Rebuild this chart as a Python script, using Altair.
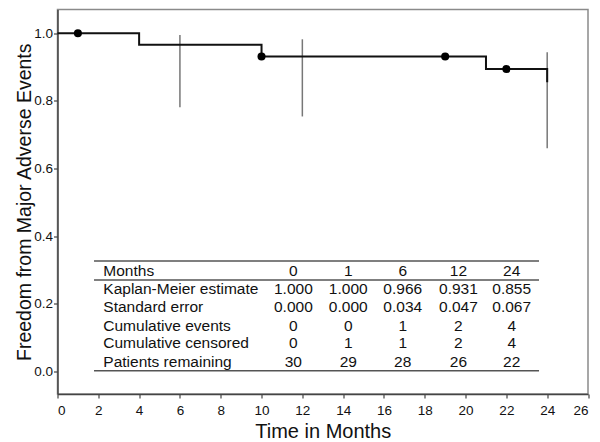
import altair as alt
import pandas as pd

# ---- Kaplan-Meier curve data ----
step_t = [0, 4, 10, 21, 24]
step_s = [1.0, 0.966, 0.931, 0.894, 0.855]
cens_t = [1, 10, 19, 22]
cens_s = [1.0, 0.931, 0.931, 0.894]
ci_t = [6, 12, 24]
ci_lo = [0.781, 0.754, 0.660]
ci_hi = [0.995, 0.982, 0.944]

# ---- Table content ----
row_labels = ["Months", "Kaplan-Meier estimate", "Standard error",
              "Cumulative events", "Cumulative censored", "Patients remaining"]
months = ["0", "1", "6", "12", "24"]
km_est = ["1.000", "1.000", "0.966", "0.931", "0.855"]
std_err = ["0.000", "0.000", "0.034", "0.047", "0.067"]
cum_events = ["0", "0", "1", "2", "4"]
cum_censored = ["0", "1", "1", "2", "4"]
remaining = ["30", "29", "28", "26", "22"]

# ---- table layout (in data units of the axes) ----
label_x = 2.245
col_x = [11.56, 14.25, 16.92, 19.65, 22.26]
row_y = [0.2985, 0.2435, 0.190, 0.136, 0.084, 0.0296]
line_y = [0.327, 0.271, 0.003]
line_x0, line_x1 = 1.79, 23.6

FONT = "Liberation Sans"
W, H = 530.5, 384.5
xs = alt.Scale(domain=[0, 26], nice=False, zero=False)
ys = alt.Scale(domain=[-0.066, 1.07], nice=False, zero=False)

step_df = pd.DataFrame({"t": step_t, "s": step_s})
cens_df = pd.DataFrame({"t": cens_t, "s": cens_s})
ci_df = pd.DataFrame({"t": ci_t, "lo": ci_lo, "hi": ci_hi})

rows = [months, km_est, std_err, cum_events, cum_censored, remaining]
lab_df = pd.DataFrame({"x": [label_x] * len(row_labels), "y": row_y, "txt": row_labels})
val_recs = []
for ri, vals in enumerate(rows):
    for ci, v in enumerate(vals):
        val_recs.append({"x": col_x[ci], "y": row_y[ri], "txt": v})
val_df = pd.DataFrame(val_recs)
line_df = pd.DataFrame({"x": [line_x0] * 3, "x2": [line_x1] * 3, "y": line_y})

X_TITLE = "Time in Months"
Y_TITLE = "Freedom from Major Adverse Events"
x_axis = alt.Axis(values=list(range(0, 27, 2)), title=X_TITLE,
                  titleX=W / 2, titleY=43, titleBaseline="alphabetic",
                  titleFontSize=20, labelFontSize=13.5, tickSize=4, labelPadding=5,
                  grid=False)
y_axis = alt.Axis(values=[0, 0.2, 0.4, 0.6, 0.8, 1.0], format=".1f",
                  title=Y_TITLE,
                  titleX=-27, titleY=H / 2, titleAngle=270, titleAlign="center",
                  titleBaseline="alphabetic", titleFontSize=19.5,
                  labelFontSize=13.5, tickSize=4, labelPadding=1, grid=False)


def X(field):
    return alt.X(field, scale=xs, axis=x_axis, title=X_TITLE)


def Y(field):
    return alt.Y(field, scale=ys, axis=y_axis, title=Y_TITLE)


step = alt.Chart(step_df).mark_line(interpolate="step-after", color="#111", strokeWidth=2).encode(
    x=X("t:Q"), y=Y("s:Q"),
)
ci = alt.Chart(ci_df).mark_rule(color="#777", strokeWidth=1.5).encode(
    x=X("t:Q"), y=Y("lo:Q"), y2="hi:Q",
)
pts = alt.Chart(cens_df).mark_point(filled=True, color="#000", size=65, opacity=1).encode(
    x=X("t:Q"), y=Y("s:Q"),
)
tlines = alt.Chart(line_df).mark_rule(color="#555", strokeWidth=1.5).encode(
    x=X("x:Q"), x2="x2:Q", y=Y("y:Q"),
)
labs = alt.Chart(lab_df).mark_text(align="left", baseline="middle", font=FONT,
                                   fontSize=15.5, color="#111").encode(
    x=X("x:Q"), y=Y("y:Q"), text="txt:N",
)
vals = alt.Chart(val_df).mark_text(align="center", baseline="middle", font=FONT,
                                   fontSize=15.5, color="#111").encode(
    x=X("x:Q"), y=Y("y:Q"), text="txt:N",
)

chart = alt.layer(ci, step, pts, tlines, labs, vals).properties(
    width=W, height=H,
    autosize=alt.AutoSizeParams(type="none"),
    padding={"left": 49.5, "top": 1.5, "right": 4, "bottom": 48},
).configure_view(
    stroke="#8a8a8a", strokeWidth=1.5,
).configure_axis(
    labelFont=FONT, titleFont=FONT, labelColor="#111", titleColor="#111",
    titleFontWeight="normal", domainColor="#444", domainWidth=1.5,
    tickColor="#444", tickWidth=1.2,
)

chart.save("out.html", embed_options={"renderer": "svg", "actions": False})
